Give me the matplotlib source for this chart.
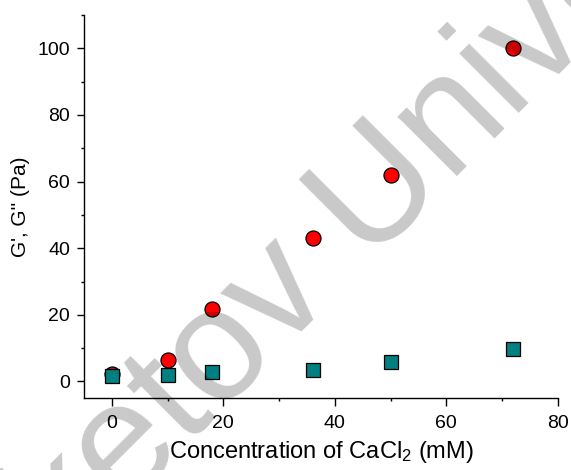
import matplotlib
matplotlib.use("Agg")
import matplotlib.pyplot as plt
from matplotlib.ticker import MultipleLocator

plt.rcParams['font.family'] = ['Liberation Sans', 'DejaVu Sans']
plt.rcParams['mathtext.fontset'] = 'custom'
plt.rcParams['mathtext.rm'] = 'Liberation Sans'
plt.rcParams['mathtext.it'] = 'Liberation Sans:italic'

# dados
conc = [0, 10, 18, 36, 50, 72]
g_storage = [2.3, 6.4, 21.8, 43.0, 62.0, 100.0]
g_loss = [1.5, 2.0, 2.8, 3.4, 5.8, 9.7]

fig = plt.figure(figsize=(5.71, 4.70), dpi=100)
ax = fig.add_axes([0.147, 0.153, 0.830, 0.815])

ax.plot(conc, g_storage, linestyle='none', marker='o', markersize=10.8,
        markerfacecolor='#ff0000', markeredgecolor='black', markeredgewidth=0.9)
ax.plot(conc, g_loss, linestyle='none', marker='s', markersize=9.4,
        markerfacecolor='#008080', markeredgecolor='black', markeredgewidth=0.9)

ax.set_xlim(-5, 80)
ax.set_ylim(-5, 110)
ax.xaxis.set_major_locator(MultipleLocator(20))
ax.xaxis.set_minor_locator(MultipleLocator(10))
ax.yaxis.set_major_locator(MultipleLocator(20))
ax.yaxis.set_minor_locator(MultipleLocator(10))

for lado in ['top', 'right']:
    ax.spines[lado].set_visible(False)
for lado in ['left', 'bottom']:
    ax.spines[lado].set_linewidth(1.0)

ax.tick_params(which='major', direction='out', length=5, width=1.0, labelsize=14, pad=5)
ax.tick_params(which='minor', direction='out', length=2.3, width=1.0)
ax.tick_params(axis='x', which='major', length=5.5, pad=7)

ax.set_xlabel('Concentration of CaCl$_2$ (mM)', fontsize=17, labelpad=5)
ax.set_ylabel("G', G'' (Pa)", fontsize=15, labelpad=5)

# marca d'água
fig.text(0.693, 0.496, 'Beketov University', fontsize=115, color='black', alpha=0.215,
         rotation=45, rotation_mode='anchor', ha='center', va='baseline', zorder=10)

fig.savefig('out.png', dpi=100)
